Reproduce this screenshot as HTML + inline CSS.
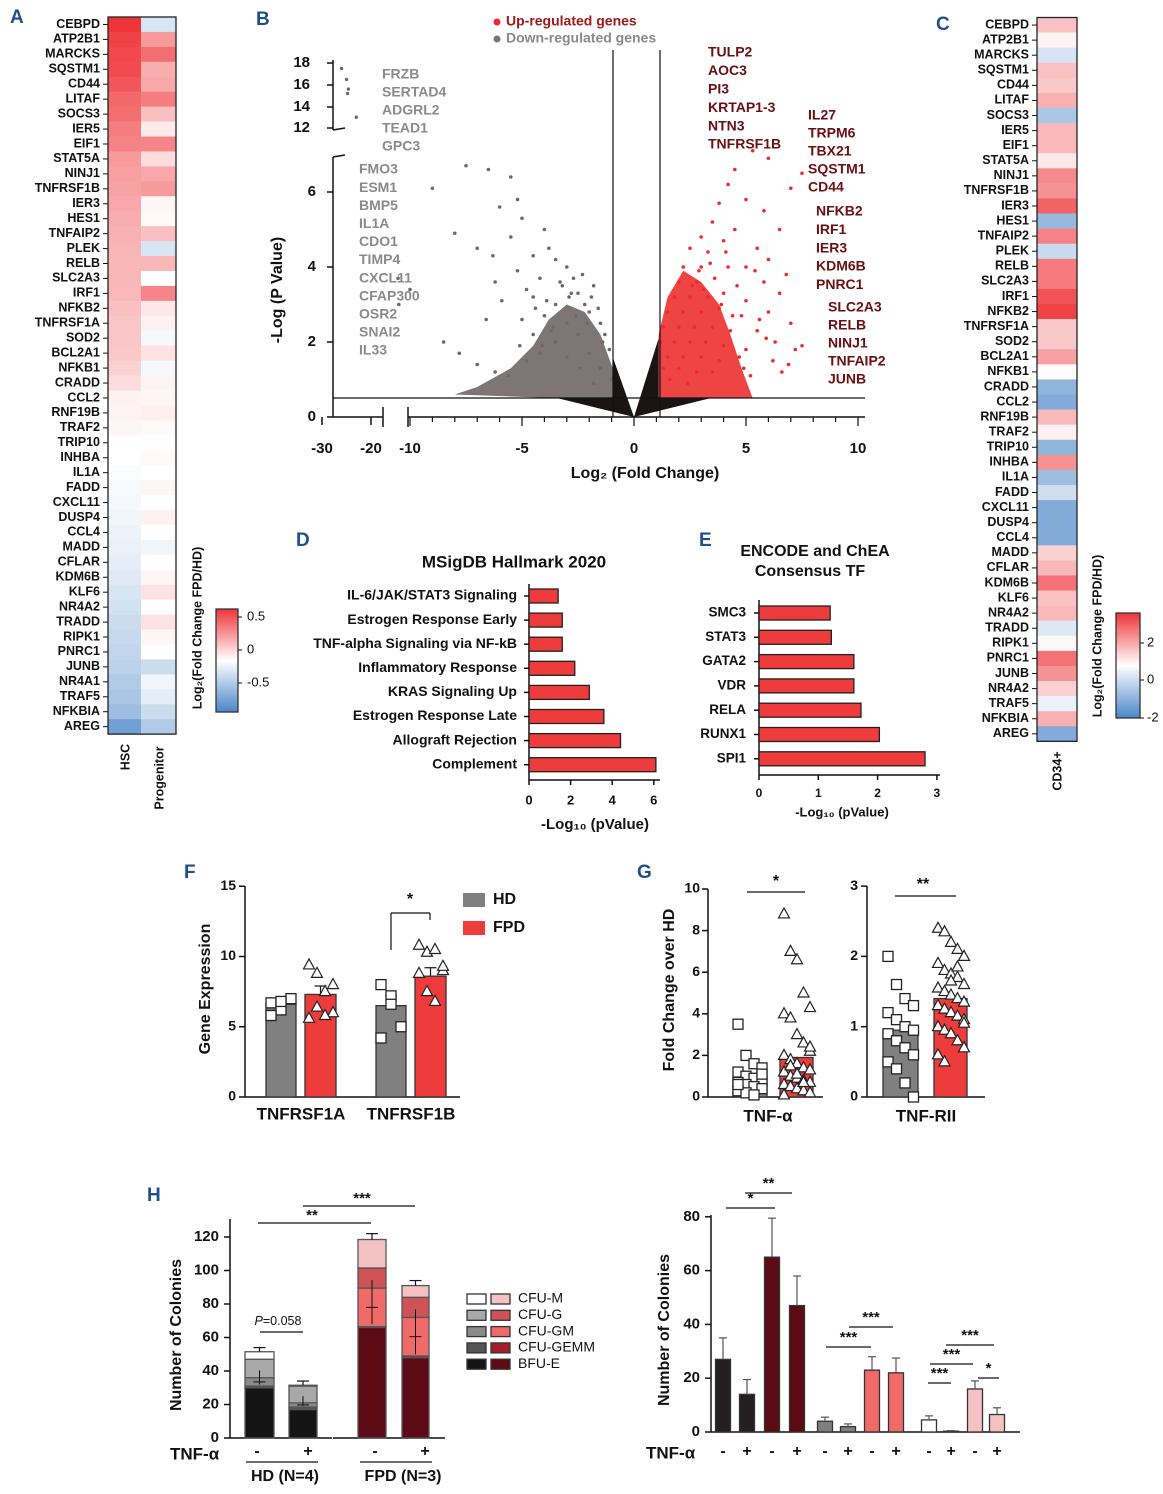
<!DOCTYPE html>
<html><head><meta charset="utf-8"><style>
html,body{margin:0;padding:0;background:#fff}
svg{display:block;font-family:"Liberation Sans",Arial,sans-serif}
</style></head><body>
<svg id="fig" width="1163" height="1494" viewBox="0 0 1163 1494" xmlns="http://www.w3.org/2000/svg"></svg>
<script>
// ---------- DATA ----------
const genesA=["CEBPD","ATP2B1","MARCKS","SQSTM1","CD44","LITAF","SOCS3","IER5","EIF1","STAT5A","NINJ1","TNFRSF1B","IER3","HES1","TNFAIP2","PLEK","RELB","SLC2A3","IRF1","NFKB2","TNFRSF1A","SOD2","BCL2A1","NFKB1","CRADD","CCL2","RNF19B","TRAF2","TRIP10","INHBA","IL1A","FADD","CXCL11","DUSP4","CCL4","MADD","CFLAR","KDM6B","KLF6","NR4A2","TRADD","RIPK1","PNRC1","JUNB","NR4A1","TRAF5","NFKBIA","AREG"];
const hscVals=[0.7,0.65,0.63,0.62,0.58,0.52,0.5,0.45,0.43,0.35,0.33,0.32,0.3,0.28,0.27,0.26,0.25,0.25,0.24,0.22,0.2,0.2,0.19,0.16,0.12,0.05,0.04,0.03,0.0,0.0,-0.02,-0.03,-0.04,-0.05,-0.07,-0.08,-0.1,-0.12,-0.15,-0.17,-0.2,-0.22,-0.24,-0.26,-0.3,-0.33,-0.38,-0.55];
const progVals=[-0.15,0.35,0.5,0.28,0.3,0.45,0.22,0.07,0.42,0.12,0.3,0.35,0.03,0.02,0.22,-0.15,0.25,0.0,0.42,0.08,0.05,-0.04,0.1,-0.04,0.04,0.03,0.06,0.02,0.0,0.02,0.0,0.03,0.0,0.05,0.0,-0.05,0.0,0.03,0.1,0.0,0.1,0.03,0.0,-0.2,-0.05,-0.1,-0.2,-0.3];
const genesC=["CEBPD","ATP2B1","MARCKS","SQSTM1","CD44","LITAF","SOCS3","IER5","EIF1","STAT5A","NINJ1","TNFRSF1B","IER3","HES1","TNFAIP2","PLEK","RELB","SLC2A3","IRF1","NFKB2","TNFRSF1A","SOD2","BCL2A1","NFKB1","CRADD","CCL2","RNF19B","TRAF2","TRIP10","INHBA","IL1A","FADD","CXCL11","DUSP4","CCL4","MADD","CFLAR","KDM6B","KLF6","NR4A2","TRADD","RIPK1","PNRC1","JUNB","NR4A2","TRAF5","NFKBIA","AREG"];
const cd34Vals=[0.8,0.15,-0.6,0.8,0.7,1.0,-1.2,0.9,0.9,0.3,1.5,1.4,2.0,-1.5,1.6,-0.8,1.7,1.7,2.2,2.4,0.7,0.7,1.2,0.05,-1.6,-1.8,0.9,0.2,-1.6,1.4,-1.4,-0.7,-1.8,-1.8,-1.8,0.6,0.9,1.8,0.8,0.9,-0.5,0.1,1.8,1.4,0.6,-0.3,1.0,-1.8];
const downX=[-7.5,-9,-6.5,-5.5,-5.2,-6,-8,-7,-6.3,-5,-4,-3.8,-5.5,-4.5,-3.5,-3,-2.7,-3.2,-4.2,-5.2,-6.2,-2.5,-2.2,-3.5,-4.5,-5,-1.8,-2,-1.5,-3,-4,-1.3,-2.5,-3.5,-4.5,-1.1,-2,-3,-1.5,-2.4,-1,-1.8,-10,-10.5,-11.5,-4.8,-3.9,-2.9,-8.5,-7.8,-7,-6.2,-5.6,-4.8,-4.1,-3.6,-2.6,-2.1,-1.6,-3.3,-4.4,-6.6,-5.9,-2.8,-2.3,-1.9,-1.4,-3.7,-4.2,-5.1];
const downY=[6.7,6.1,6.6,6.4,5.8,5.6,4.9,4.5,4.3,5.3,5.0,4.5,4.8,4.3,4.2,4.0,3.7,3.5,3.7,3.9,3.6,3.3,3.0,3.0,3.2,2.6,3.5,2.8,2.5,2.5,2.7,2.2,2.2,2.0,2.2,1.8,1.7,1.6,1.3,1.3,1.0,0.9,3.4,3.0,3.7,3.4,3.1,3.2,2.0,1.7,1.4,1.2,1.1,1.5,1.9,2.4,2.7,2.5,2.9,3.6,2.9,2.6,3.1,3.3,3.8,3.2,2.0,2.3,1.7,1.9];
const upX=[6,5.3,4.5,4.2,5,3.8,5.8,3.5,4.5,7.5,7,6.5,3,4,5.5,2.5,3.3,6,2.2,3,4.2,5,2,2.8,3.6,4.6,5.8,1.8,2.5,3.3,4,5,6.5,1.5,2.2,3,3.8,4.8,6,7,1.3,2,2.7,3.5,4.3,5.5,7.5,1.2,1.8,2.5,3.2,4,5,6.3,1.5,2.2,3,3.8,4.7,1.3,2,2.8,3.5,1.6,2.4,7.2,6.8,4.9,5.2,6.2,6.6,5.6,4.4,3.9,3.1,2.6,5.9,6.9,4.1,3.4,2.9,5.4];
const upY=[6.9,7.1,6.6,6.2,5.8,5.7,5.5,5.2,5.0,6.5,6.1,5.0,4.8,4.7,4.5,4.5,4.4,4.2,4.0,4.0,4.0,4.0,3.6,3.6,3.7,3.5,3.6,3.2,3.2,3.2,3.3,3.1,3.3,2.8,2.8,2.8,2.9,2.7,2.8,2.5,2.4,2.4,2.4,2.4,2.3,2.3,1.9,2.0,2.0,2.0,2.0,1.9,1.8,2.0,1.6,1.6,1.6,1.5,1.6,1.3,1.3,1.2,1.2,1.0,0.9,1.8,3.8,1.3,1.1,1.5,1.2,2.6,2.7,3.0,3.4,3.5,2.1,1.4,4.4,4.1,3.9,3.9];
const upperX=[-26,-25,-24.6,-24.8,-23];
const upperY=[17.5,16.5,15.6,15.2,13];
const hallmarkTerms=["IL-6/JAK/STAT3 Signaling","Estrogen Response Early","TNF-alpha Signaling via NF-kB","Inflammatory Response","KRAS Signaling Up","Estrogen Response Late","Allograft Rejection","Complement"];
const hallmarkVals=[1.4,1.6,1.6,2.2,2.9,3.6,4.4,6.1];
const tfTerms=["SMC3","STAT3","GATA2","VDR","RELA","RUNX1","SPI1"];
const tfVals=[1.2,1.22,1.6,1.6,1.72,2.03,2.8];
const fGroups=["TNFRSF1A","TNFRSF1B"];
const fHD=[6.6,6.5];const fFPD=[7.3,8.6];
const fHDerr=[0.4,0.7];const fFPDerr=[0.6,0.6];
const fHDpts=[[6.7,6.2,7.0,5.8,6.8],[8.0,7.2,5.0,4.2,6.6]];
const fFPDpts=[[9.4,8.8,7.5,6.0,5.6,6.4,5.8,8.0],[10.8,10.3,10.5,9.0,8.8,7.5,6.8,9.3]];
const gTnfHD=0.9,gTnfFPD=1.9,gRiiHD=0.95,gRiiFPD=1.4;
const gTnfHDpts=[3.5,2.0,1.6,1.4,1.2,1.0,0.9,0.8,0.7,0.6,0.5,0.4,0.3,0.2,0.1,1.1,0.6];
const gTnfFPDpts=[8.8,7.0,6.6,5.0,4.3,4.0,3.8,3.0,2.6,2.2,2.0,1.8,1.6,1.4,1.3,1.2,1.0,0.9,0.8,0.7,0.6,0.5,0.4,0.3,0.2,0.1,1.5,1.1,0.7,2.4];
const gRiiHDpts=[2.0,1.6,1.4,1.3,1.2,1.1,1.0,0.95,0.9,0.8,0.7,0.6,0.5,0.4,0.2,0.0];
const gRiiFPDpts=[2.4,2.35,2.2,2.1,2.0,1.9,1.8,1.75,1.7,1.6,1.55,1.5,1.45,1.4,1.35,1.3,1.25,1.2,1.15,1.1,1.0,0.95,0.9,0.8,0.7,0.6,0.5,1.65,1.85,1.05];
const hStackCats=["HD-","HD+","FPD-","FPD+"];
const hBFU=[30,17,66,48];const hGEMM=[1,1.5,0.5,1];const hGM=[5,2.5,23,23];const hG=[11,10,12,12];const hM=[4.5,0.5,17,7];
const hErrTop=[54,34,122,94];
const hBarVals=[27,14,65,47,4,2,23,22,4.5,0.3,16,6.5];
const hBarErr=[35,19.5,79.5,58,5.5,3,28,27.5,6,0.5,19,9];

// ---------- HELPERS ----------
const NS="http://www.w3.org/2000/svg";const svg=document.getElementById('fig');
function mk(tag,attrs,name,parent){const e=document.createElementNS(NS,tag);for(const k in attrs)e.setAttribute(k,attrs[k]);


(parent||svg).appendChild(e);return e;}
function T(x,y,s,name,o){o=o||{};const e=mk('text',{x:x,y:y,'font-size':o.fs||13,'font-weight':o.fw||'bold','text-anchor':o.a||'start',fill:o.c||'#111','dominant-baseline':'middle'},name);if(o.rot)e.setAttribute('transform','rotate('+o.rot+' '+x+' '+y+')');if(o.st)e.setAttribute('font-style',o.st);e.textContent=s;return e;}
function L(x1,y1,x2,y2,name,c,w){return mk('line',{x1:x1,y1:y1,x2:x2,y2:y2,stroke:c||'#111','stroke-width':w||1.5},name);}
function R(x,y,w,h,f,name,s){return mk('rect',{x:x,y:y,width:w,height:h,fill:f,stroke:s||'none','stroke-width':s?1.3:0},name);}
function div(v,m){let t=Math.max(-1,Math.min(1,v/m));const W=[255,255,255],Rr=[238,52,56],B=[74,134,200];const E=t>=0?Rr:B;t=Math.abs(t);return 'rgb('+W.map((w,i)=>Math.round(w+(E[i]-w)*t)).join(',')+')';}
function panel(x,y,s){T(x,y,s,'panel-label-'+s.toLowerCase(),{fs:19,c:'#1f4e8c'});}

// ---------- A ----------
panel(10,18,'A');
const aTop=17,aRow=14.94;
genesA.forEach((g,i)=>{const y=aTop+i*aRow;
R(108,y,33,aRow+0.3,div(hscVals[i],0.7),'hsc-cell-'+g);
R(141,y,35,aRow+0.3,div(progVals[i],0.7),'progenitor-cell-'+g);
L(103,y+aRow/2,108,y+aRow/2,'a-tick',null,1);
T(100,y+aRow/2,g,'a-gene-label-'+g,{fs:12.5,a:'end'});});
R(108,aTop,68,genesA.length*aRow,'none','heatmap-a-border','#222');
T(126,757,'HSC','col-label-hsc',{rot:-90,a:'middle',fs:12.5});
T(160,778,'Progenitor','col-label-progenitor',{rot:-90,a:'middle',fs:12.5});
const gA=mk('linearGradient',{id:'gA',x1:0,y1:0,x2:0,y2:1},'colorbar-a-gradient');
[['0%','rgb(238,52,56)'],['50%','#fff'],['100%','rgb(74,134,200)']].forEach(s=>mk('stop',{offset:s[0],'stop-color':s[1]},'grad-stop',gA));
R(216,609,22,103,'url(#gA)','colorbar-a','#333');
[['0.5',617],['0',650],['-0.5',683]].forEach(t=>{L(238,t[1],242,t[1],'cb-a-tick',null,1);T(247,t[1],t[0],'cb-a-tick-label',{fw:'normal',fs:13});});
T(198,628,'Log₂(Fold Change FPD/HD)','colorbar-a-title',{rot:-90,a:'middle',fs:12.5});

// ---------- B volcano ----------
panel(256,20,'B');
const vx=v=>634+22.4*v, vy=v=>417-37.5*v;
const vxU=v=>322+4.9*(v+30), vyU=v=>128-10.8*(v-12);
L(333,157,333,417,'volcano-y-axis');L(333,60,333,130,'volcano-y-axis-upper');
L(333,130,345,128,'break-mark');L(333,157,345,155,'break-mark');
L(333,417,383,417,'x-axis-seg1');L(408,417,865,417,'x-axis-seg2');
L(383,407,383,427,'x-break');L(408,407,408,427,'x-break');
[[0,417],[2,342],[4,267],[6,192]].forEach(t=>{L(327,t[1],333,t[1],'y-tick');T(316,t[1],''+t[0],'volcano-y-tick',{a:'end',fs:15});});
[[12,128],[14,107],[16,85],[18,63]].forEach(t=>{L(327,t[1],333,t[1],'y-tick');T(310,t[1],''+t[0],'volcano-y-tick',{a:'end',fs:15});});
[[-30,322],[-20,371]].forEach(t=>{L(t[1],417,t[1],425,'x-tick');T(t[1],449,''+t[0],'volcano-x-tick',{a:'middle',fs:15});});
for(let v=-10;v<=10;v++){L(vx(v),417,vx(v),v%5===0?426:422,'x-minor-tick',null,1.2);}
[-10,-5,0,5,10].forEach(v=>{T(vx(v),449,''+v,'volcano-x-tick',{a:'middle',fs:15});});
T(645,474,'Log₂ (Fold Change)','volcano-x-title',{a:'middle',fs:16});
T(278,290,'-Log (P Value)','volcano-y-title',{rot:-90,a:'middle',fs:16});
mk('polygon',{points:[[vx(-0.95),vy(0.5)],[vx(-0.95),vy(1.3)],[vx(-1.5),vy(2.2)],[vx(-2.2),vy(2.8)],[vx(-3),vy(3.0)],[vx(-3.8),vy(2.6)],[vx(-4.5),vy(1.9)],[vx(-5.5),vy(1.3)],[vx(-7),vy(0.8)],[vx(-8),vy(0.6)],[vx(-3.3),vy(0.5)]].join(' '),fill:'#7d7576'},'down-density');
mk('polygon',{points:[[vx(1.1),vy(0.5)],[vx(1.1),vy(2.2)],[vx(1.5),vy(3.2)],[vx(2.2),vy(3.9)],[vx(3),vy(3.6)],[vx(3.8),vy(3.0)],[vx(4.3),vy(2.2)],[vx(4.8),vy(1.3)],[vx(5.3),vy(0.5)]].join(' '),fill:'#ef4444'},'up-density');
mk('polygon',{points:[[vx(0),vy(0)],[vx(-0.95),vy(1.6)],[vx(-0.95),vy(0.5)],[vx(-3.4),vy(0.5)]].join(' '),fill:'#1a1414'},'ns-density-left');
mk('polygon',{points:[[vx(0),vy(0)],[vx(1.1),vy(2.1)],[vx(1.1),vy(0.5)],[vx(3.4),vy(0.5)]].join(' '),fill:'#1a1414'},'ns-density-right');
downX.forEach((v,i)=>mk('circle',{cx:v<-10.5?vx(-10)-(-10-v)*8:vx(v),cy:vy(downY[i]),r:1.8,fill:'#6f6768'},'down-point'));
upperX.forEach((v,i)=>mk('circle',{cx:vxU(v),cy:vyU(upperY[i]),r:1.7,fill:'#6f6768'},'down-point-upper'));
upX.forEach((v,i)=>mk('circle',{cx:vx(v),cy:vy(upY[i]),r:1.8,fill:'#ee2b2b'},'up-point'));
L(333,398,865,398,'p-threshold-line',null,1.2);L(613,50,613,417,'fc-threshold-neg',null,1.2);L(660,50,660,417,'fc-threshold-pos',null,1.2);
mk('circle',{cx:497,cy:22,r:3.5,fill:'#ee2b2b'},'legend-up-dot');T(506,22,'Up-regulated genes','legend-up',{fs:14,c:'#a01818'});
mk('circle',{cx:497,cy:39,r:3.5,fill:'#777'},'legend-down-dot');T(506,39,'Down-regulated genes','legend-down',{fs:14,c:'#888'});
["FRZB","SERTAD4","ADGRL2","TEAD1","GPC3"].forEach((g,i)=>T(382,75+i*18,g,'down-label-'+g,{fs:14,c:'#8a8a8a'}));
["FMO3","ESM1","BMP5","IL1A","CDO1","TIMP4","CXCL11","CFAP300","OSR2","SNAI2","IL33"].forEach((g,i)=>T(359,170+i*18.1,g,'down-label-'+g,{fs:14,c:'#8a8a8a'}));
const dk='#6b0f12';
["TULP2","AOC3","PI3","KRTAP1-3","NTN3","TNFRSF1B"].forEach((g,i)=>T(708,53+i*18.4,g,'up-label-'+g,{fs:14,c:dk}));
["IL27","TRPM6","TBX21","SQSTM1","CD44"].forEach((g,i)=>T(808,116+i*18,g,'up-label-'+g,{fs:14,c:dk}));
["NFKB2","IRF1","IER3","KDM6B","PNRC1"].forEach((g,i)=>T(816,212+i*18.3,g,'up-label-'+g,{fs:14,c:dk}));
["SLC2A3","RELB","NINJ1","TNFAIP2","JUNB"].forEach((g,i)=>T(828,308+i*18,g,'up-label-'+g,{fs:14,c:dk}));

// ---------- C ----------
panel(936,25,'C');
const cTop=17.5,cRow=15.08;
genesC.forEach((g,i)=>{const y=cTop+i*cRow;R(1037,y,40,cRow+0.3,div(cd34Vals[i],2.6),'cd34-cell-'+g);
L(1032,y+cRow/2,1037,y+cRow/2,'c-tick',null,1);T(1029,y+cRow/2,g,'c-gene-label-'+g,{fs:12.5,a:'end'});});
R(1037,cTop,40,genesC.length*cRow,'none','heatmap-c-border','#222');
T(1058,771,'CD34+','col-label-cd34',{rot:-90,a:'middle',fs:12.5});
R(1116,613,24,105,'url(#gA)','colorbar-c','#333');
[['2',643],['0',680],['-2',718]].forEach(t=>{L(1140,t[1],1144,t[1],'cb-c-tick',null,1);T(1147,t[1],t[0],'cb-c-tick-label',{fw:'normal',fs:13});});
T(1098,636,'Log₂(Fold Change FPD/HD)','colorbar-c-title',{rot:-90,a:'middle',fs:12.5});

// ---------- D ----------
panel(296,541,'D');
T(514,563,'MSigDB Hallmark 2020','d-title',{a:'middle',fs:17});
const dx=v=>529+20.8*v;
L(529,584,529,780,'d-y-axis');L(529,780,660,780,'d-x-axis');
hallmarkTerms.forEach((t,i)=>{const y=596+i*24.1;R(529,y-7,dx(hallmarkVals[i])-529,14,'#ee3b3b','d-bar-'+i,'#222');L(524,y,529,y,'d-tick');T(517,y,t,'d-term-label',{a:'end',fs:14});});
[0,2,4,6].forEach(v=>{L(dx(v),780,dx(v),785,'d-xtick');T(dx(v),801,''+v,'d-xtick-label',{a:'middle',fs:13});});
T(595,825,'-Log₁₀ (pValue)','d-x-title',{a:'middle',fs:15});

// ---------- E ----------
panel(699,541,'E');
T(815,552,'ENCODE and ChEA','e-title-1',{a:'middle',fs:16});T(810,572,'Consensus TF','e-title-2',{a:'middle',fs:16});
const ex=v=>759+59.3*v;
L(759,600,759,775,'e-y-axis');L(759,775,940,775,'e-x-axis');
tfTerms.forEach((t,i)=>{const y=613+i*24.3;R(759,y-7,ex(tfVals[i])-759,14,'#ee3b3b','e-bar-'+t,'#222');L(754,y,759,y,'e-tick');T(746,y,t,'e-term-label-'+t,{a:'end',fs:13.5});});
[0,1,2,3].forEach(v=>{L(ex(v),775,ex(v),780,'e-xtick');T(ex(v),794,''+v,'e-xtick-label',{a:'middle',fs:12});});
T(842,813,'-Log₁₀ (pValue)','e-x-title',{a:'middle',fs:13});

// ---------- F ----------
panel(184,873,'F');
const fy=v=>1097-14.05*v;
L(245,886,245,1097,'f-y-axis');L(245,1097,460,1097,'f-x-axis');
[0,5,10,15].forEach(v=>{L(239,fy(v),245,fy(v),'f-ytick');T(236,fy(v),''+v,'f-ytick-label',{a:'end',fs:14});});
T(206,989,'Gene Expression','f-y-title',{rot:-90,a:'middle',fs:16});
const fX=[[266,305],[376,415]];
function sq(x,y,n){R(x-5,y-5,10,10,'#fff',n,'#222');}
function tri(x,y,n){mk('polygon',{points:(x)+','+(y-6)+' '+(x-5.5)+','+(y+4)+' '+(x+5.5)+','+(y+4),fill:'#fff',stroke:'#222','stroke-width':1.2},n);}
fGroups.forEach((g,i)=>{
R(fX[i][0],fy(fHD[i]),30,fy(0)-fy(fHD[i]),'#808080','f-bar-hd-'+g,'#333');
R(fX[i][1],fy(fFPD[i]),31,fy(0)-fy(fFPD[i]),'#ee3b3b','f-bar-fpd-'+g,'#333');
[[fX[i][0]+15,fHD[i],fHDerr[i]],[fX[i][1]+15.5,fFPD[i],fFPDerr[i]]].forEach(e=>{L(e[0],fy(e[1]),e[0],fy(e[1]+e[2]),'f-err',null,1.2);L(e[0]-6,fy(e[1]+e[2]),e[0]+6,fy(e[1]+e[2]),'f-err-cap',null,1.2);});
fHDpts[i].forEach((v,k)=>sq(fX[i][0]+5+(k%3)*10,fy(v),'f-point-hd'));
fFPDpts[i].forEach((v,k)=>tri(fX[i][1]+4+(k%4)*8,fy(v),'f-point-fpd'));
T(fX[i][0]+35,1115,g,'f-x-label-'+g,{a:'middle',fs:17});});
L(391,913,430,913,'f-sig-line',null,1.2);L(391,913,391,950,'f-sig-line',null,1.2);L(430,913,430,920,'f-sig-line',null,1.2);T(410,900,'*','f-sig',{a:'middle',fs:16});
R(463,893,22,14,'#808080','legend-hd-swatch');T(493,900,'HD','legend-hd',{fs:16});
R(463,921,22,14,'#ee3b3b','legend-fpd-swatch');T(493,928,'FPD','legend-fpd',{fs:16});

// ---------- G ----------
panel(637,873,'G');
const gy1=v=>1097-20.8*v, gy2=v=>1097-70.3*v;
L(708,889,708,1097,'g1-y-axis');L(708,1097,823,1097,'g1-x-axis');
[0,2,4,6,8,10].forEach(v=>{L(702,gy1(v),708,gy1(v),'g1-ytick');T(700,gy1(v),''+v,'g1-ytick-label',{a:'end',fs:14});});
L(867,886,867,1097,'g2-y-axis');L(867,1097,985,1097,'g2-x-axis');
[0,1,2,3].forEach(v=>{L(861,gy2(v),867,gy2(v),'g2-ytick');T(858,gy2(v),''+v,'g2-ytick-label',{a:'end',fs:14});});
T(670,990,'Fold Change over HD','g-y-title',{rot:-90,a:'middle',fs:16});
R(733,gy1(gTnfHD),34,gy1(0)-gy1(gTnfHD),'#808080','g-bar-tnf-hd','#333');
R(780,gy1(gTnfFPD),33,gy1(0)-gy1(gTnfFPD),'#ee3b3b','g-bar-tnf-fpd','#333');
R(883,gy2(gRiiHD),35,gy2(0)-gy2(gRiiHD),'#808080','g-bar-rii-hd','#333');
R(934,gy2(gRiiFPD),33,gy2(0)-gy2(gRiiFPD),'#ee3b3b','g-bar-rii-fpd','#333');
gTnfHDpts.forEach((v,k)=>sq(738+(k%4)*8,gy1(v),'g-point-tnf-hd'));
gTnfFPDpts.forEach((v,k)=>tri(784+(k%5)*6.5,gy1(v),'g-point-tnf-fpd'));
gRiiHDpts.forEach((v,k)=>sq(888+(k%4)*8.5,gy2(v),'g-point-rii-hd'));
gRiiFPDpts.forEach((v,k)=>tri(938+(k%5)*6.5,gy2(v),'g-point-rii-fpd'));
L(747,892,805,892,'g1-sig-line',null,1.2);T(776,882,'*','g1-sig',{a:'middle',fs:16});
L(895,896,956,896,'g2-sig-line',null,1.2);T(923,885,'**','g2-sig',{a:'middle',fs:16});
T(768,1117,'TNF-α','g-x-label-tnf',{a:'middle',fs:17});T(926,1117,'TNF-RII','g-x-label-rii',{a:'middle',fs:17});

// ---------- H left ----------
panel(147,1196,'H');
const hy=v=>1438-1.675*v;
L(230,1219,230,1438,'h1-y-axis');L(230,1438,332,1438,'h1-x-axis');L(333,1438,445,1438,'h1-x-axis-2');
[0,20,40,60,80,100,120].forEach(v=>{L(224,hy(v),230,hy(v),'h1-ytick');T(219,hy(v),''+v,'h1-ytick-label',{a:'end',fs:15});});
T(177,1335,'Number of Colonies','h1-y-title',{rot:-90,a:'middle',fs:16});
const hXs=[245,289,358,402],hW=[29,28,28,27];
const colHD=['#141414','#555','#8a8a8a','#a8a8a8','#fff'],colFPD=['#5c0a14','#a01f2a','#f06a6a','#cf5256','#f5c2c4'];
hStackCats.forEach((c,i)=>{const cols=i<2?colHD:colFPD;let acc=0;[hBFU[i],hGEMM[i],hGM[i],hG[i],hM[i]].forEach((v,k)=>{R(hXs[i],hy(acc+v),hW[i],hy(acc)-hy(acc+v),cols[k],'h-stack-'+c+'-'+k,'#555');acc+=v;});
const cx=hXs[i]+hW[i]/2;L(cx,hy(acc),cx,hy(hErrTop[i]),'h-stack-err',null,1.2);L(cx-6,hy(hErrTop[i]),cx+6,hy(hErrTop[i]),'h-stack-err-cap',null,1.2);
const mid=hy(hBFU[i]+hGEMM[i]+hGM[i]*0.5);L(cx,hy(hBFU[i]+2),cx,hy(hBFU[i]+hGEMM[i]+hGM[i]+hG[i]*0.4),'h-inner-err',null,1);L(cx-6,mid,cx+6,mid,'h-inner-cap',null,1);});
L(258,1223,371,1223,'h1-sig-line',null,1.2);T(312,1216,'**','h1-sig',{a:'middle',fs:15});
L(303,1206,415,1206,'h1-sig-line-2',null,1.2);T(362,1199,'***','h1-sig-2',{a:'middle',fs:15});
L(260,1332,303,1332,'h1-pval-line',null,1.2);
const pv=T(278,1322,'','h1-pval',{a:'middle',fs:12.5,fw:'normal'});
const pvI=mk('tspan',{'font-style':'italic'},'h1-pval-p',pv);pvI.textContent='P';
const pvR=mk('tspan',{},'h1-pval-value',pv);pvR.textContent='=0.058';
T(170,1455,'TNF-α','h1-tnf-label',{fs:17});
[['-',257],['+',308],['-',375],['+',425]].forEach(t=>T(t[1],1452,t[0],'h1-tnf-sign',{a:'middle',fs:16}));
L(246,1462,318,1462,'h1-group-line',null,1.2);L(360,1462,432,1462,'h1-group-line',null,1.2);
T(285,1477,'HD (N=4)','h1-group-hd',{a:'middle',fs:16});T(403,1477,'FPD (N=3)','h1-group-fpd',{a:'middle',fs:16});
['CFU-M','CFU-G','CFU-GM','CFU-GEMM','BFU-E'].forEach((n,k)=>{const y=1299+k*16.3;const j=4-k;
R(467,y-5,19,10,colHD[j],'legend-hd-'+n,'#333');R(491,y-5,19,10,colFPD[j],'legend-fpd-'+n,'#333');T(518,y,n,'legend-label-'+n,{fw:'normal',fs:14});});

// ---------- H right ----------
const ry=v=>1432-2.69*v;
L(711,1215,711,1432,'h2-y-axis');L(711,1432,1020,1432,'h2-x-axis');
[0,20,40,60,80].forEach(v=>{L(705,ry(v),711,ry(v),'h2-ytick');T(700,ry(v),''+v,'h2-ytick-label',{a:'end',fs:15});});
T(665,1330,'Number of Colonies','h2-y-title',{rot:-90,a:'middle',fs:16});
const rxC=[723,747,772,797,825,848,872,896,929,951,975,997];
const rCol=['#231f20','#231f20','#5c0a14','#5c0a14','#7f7f7f','#7f7f7f','#f06a6a','#f06a6a','#fff','#fff','#f5c2c4','#f5c2c4'];
hBarVals.forEach((v,i)=>{R(rxC[i]-7.5,ry(v),15,ry(0)-ry(v),rCol[i],'h2-bar-'+i,'#333');L(rxC[i],ry(v),rxC[i],ry(hBarErr[i]),'h2-err',"#555",1.2);L(rxC[i]-4,ry(hBarErr[i]),rxC[i]+4,ry(hBarErr[i]),'h2-err-cap',"#555",1.2);
T(rxC[i],1452,i%2?'+':'-','h2-tnf-sign',{a:'middle',fs:16});});
T(646,1454,'TNF-α','h2-tnf-label',{fs:17});
[[726,775,1208,'*'],[745,792,1193,'**'],[826,871,1347,'***'],[849,893,1327,'***'],[928,951,1383,'***'],[930,973,1364,'***'],[946,994,1345,'***'],[978,999,1378,'*']].forEach(s=>{L(s[0],s[2],s[1],s[2],'h2-sig-line',null,1.2);T((s[0]+s[1])/2,s[2]-9,s[3],'h2-sig',{a:'middle',fs:15});});
</script>
</body></html>
